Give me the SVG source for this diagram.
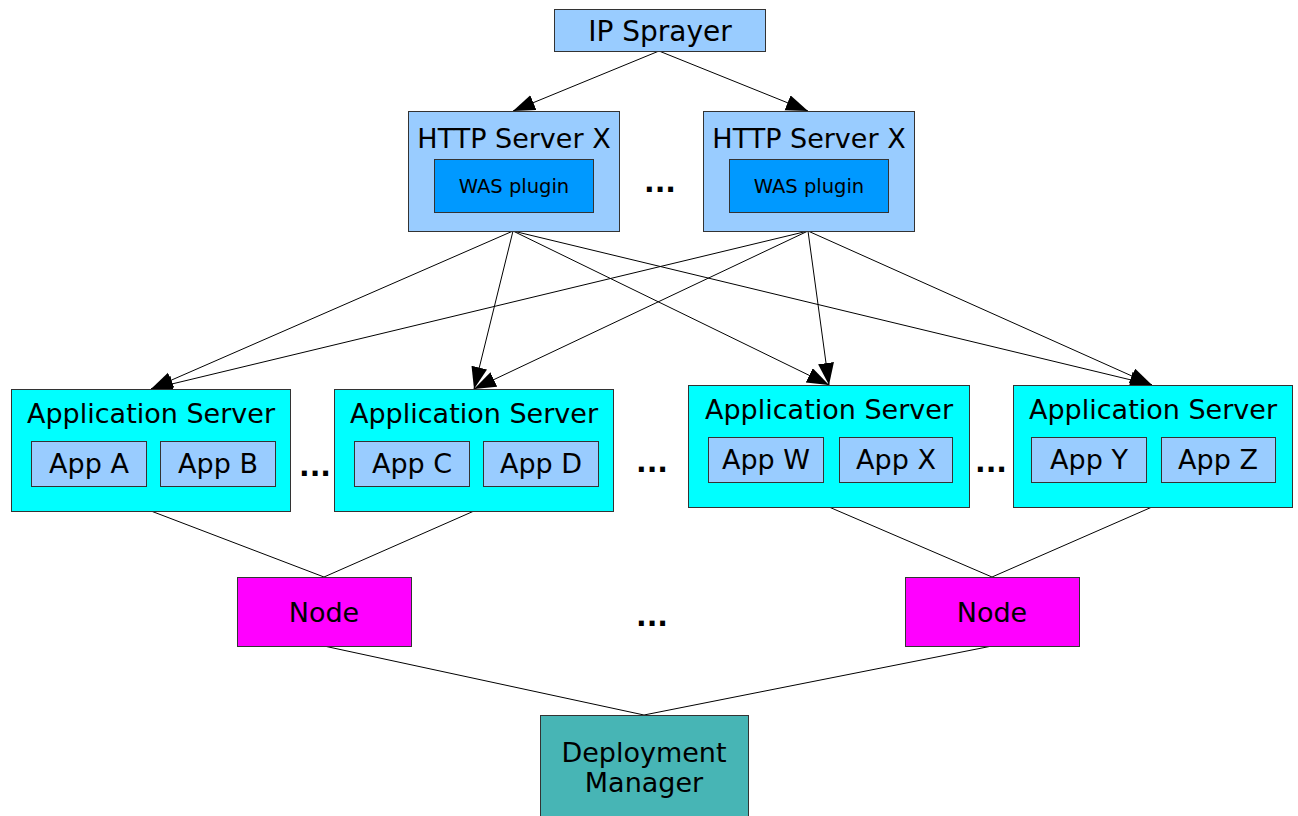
<svg xmlns="http://www.w3.org/2000/svg" width="1298" height="816" viewBox="0 0 1298 816">
<style>
  text { font-family: "DejaVu Sans", Verdana, sans-serif; fill: #000; text-anchor: middle; }
  .big { font-size: 27px; }
  .title { font-size: 28px; }
  .small { font-size: 19.5px; }
  .dots { font-size: 28px; font-weight: bold; }
  .box { stroke: #333333; stroke-width: 1; }
  .light { fill: #99ccff; }
  .plugin { fill: #0099ff; }
  .as { fill: #00ffff; }
  .node { fill: #ff00ff; }
  .dm { fill: #47b5b5; }
  .conn line { stroke: #000; stroke-width: 1; fill: none; }
  .arrow { marker-end: url(#ah); }
</style>
<defs>
  <marker id="ah" markerUnits="userSpaceOnUse" markerWidth="23" markerHeight="17" refX="22" refY="8" orient="auto">
    <path d="M0,0 L22,8 L0,16 z" fill="#000"/>
  </marker>
</defs>
<rect width="1298" height="816" fill="#ffffff"/>

<g id="connectors" class="conn">
  <line class="arrow" x1="659" y1="51" x2="513" y2="111"/>
  <line class="arrow" x1="659" y1="51" x2="808" y2="111"/>
  <line class="arrow" x1="513" y1="231" x2="151" y2="389"/>
  <line class="arrow" x1="513" y1="231" x2="474" y2="389"/>
  <line class="arrow" x1="513" y1="231" x2="829" y2="385"/>
  <line class="arrow" x1="513" y1="231" x2="1152" y2="385"/>
  <line class="arrow" x1="808" y1="231" x2="151" y2="389"/>
  <line class="arrow" x1="808" y1="231" x2="474" y2="389"/>
  <line class="arrow" x1="808" y1="231" x2="829" y2="385"/>
  <line class="arrow" x1="808" y1="231" x2="1152" y2="385"/>
  <line x1="151" y1="511" x2="324" y2="577"/>
  <line x1="474" y1="511" x2="324" y2="577"/>
  <line x1="829" y1="507" x2="992" y2="577"/>
  <line x1="1152" y1="507" x2="992" y2="577"/>
  <line x1="324" y1="646" x2="644" y2="715"/>
  <line x1="992" y1="646" x2="644" y2="715"/>
</g>

<g id="ip-sprayer">
  <rect class="box light" x="554.5" y="9.5" width="211" height="42"/>
  <text class="title" x="660" y="41">IP Sprayer</text>
</g>

<g id="http-server-1">
  <rect class="box light" x="408.5" y="111.5" width="211" height="120"/>
  <text class="big" x="514" y="148">HTTP Server X</text>
  <rect class="box plugin" x="434.5" y="159.5" width="159" height="53"/>
  <text class="small" x="514" y="193">WAS plugin</text>
</g>

<g id="http-server-2">
  <rect class="box light" x="703.5" y="111.5" width="211" height="120"/>
  <text class="big" x="809" y="148">HTTP Server X</text>
  <rect class="box plugin" x="729.5" y="159.5" width="159" height="53"/>
  <text class="small" x="809" y="193">WAS plugin</text>
</g>

<text id="dots-http" class="dots" x="660" y="192">...</text>

<g id="app-server-1">
  <rect class="box as" x="11.5" y="389.5" width="279" height="122"/>
  <text class="big" x="151" y="423">Application Server</text>
  <rect class="box light" x="31.5" y="441.5" width="115" height="45"/>
  <text class="big" x="89" y="473">App A</text>
  <rect class="box light" x="160.5" y="441.5" width="115" height="45"/>
  <text class="big" x="218" y="473">App B</text>
</g>

<g id="app-server-2">
  <rect class="box as" x="334.5" y="389.5" width="279" height="122"/>
  <text class="big" x="474" y="423">Application Server</text>
  <rect class="box light" x="354.5" y="441.5" width="115" height="45"/>
  <text class="big" x="412" y="473">App C</text>
  <rect class="box light" x="483.5" y="441.5" width="115" height="45"/>
  <text class="big" x="541" y="473">App D</text>
</g>

<g id="app-server-3">
  <rect class="box as" x="688.5" y="385.5" width="281" height="122"/>
  <text class="big" x="829" y="419">Application Server</text>
  <rect class="box light" x="708.5" y="437.5" width="115" height="45"/>
  <text class="big" x="766" y="469">App W</text>
  <rect class="box light" x="839.5" y="437.5" width="113" height="45"/>
  <text class="big" x="896" y="469">App X</text>
</g>

<g id="app-server-4">
  <rect class="box as" x="1013.5" y="385.5" width="279" height="122"/>
  <text class="big" x="1153" y="419">Application Server</text>
  <rect class="box light" x="1031.5" y="437.5" width="115" height="45"/>
  <text class="big" x="1089" y="469">App Y</text>
  <rect class="box light" x="1161.5" y="437.5" width="114" height="45"/>
  <text class="big" x="1218" y="469">App Z</text>
</g>

<text id="dots-as-1" class="dots" x="315" y="476">...</text>
<text id="dots-as-2" class="dots" x="652" y="472">...</text>
<text id="dots-as-3" class="dots" x="991" y="472">...</text>

<g id="node-1">
  <rect class="box node" x="237.5" y="577.5" width="174" height="69"/>
  <text class="big" x="324" y="622">Node</text>
</g>

<text id="dots-node" class="dots" x="652" y="626">...</text>

<g id="node-2">
  <rect class="box node" x="905.5" y="577.5" width="174" height="69"/>
  <text class="big" x="992" y="622">Node</text>
</g>

<g id="deployment-manager">
  <rect class="box dm" x="540.5" y="715.5" width="208" height="110"/>
  <text class="big" x="644" y="762">Deployment</text>
  <text class="big" x="644" y="792">Manager</text>
</g>
</svg>
